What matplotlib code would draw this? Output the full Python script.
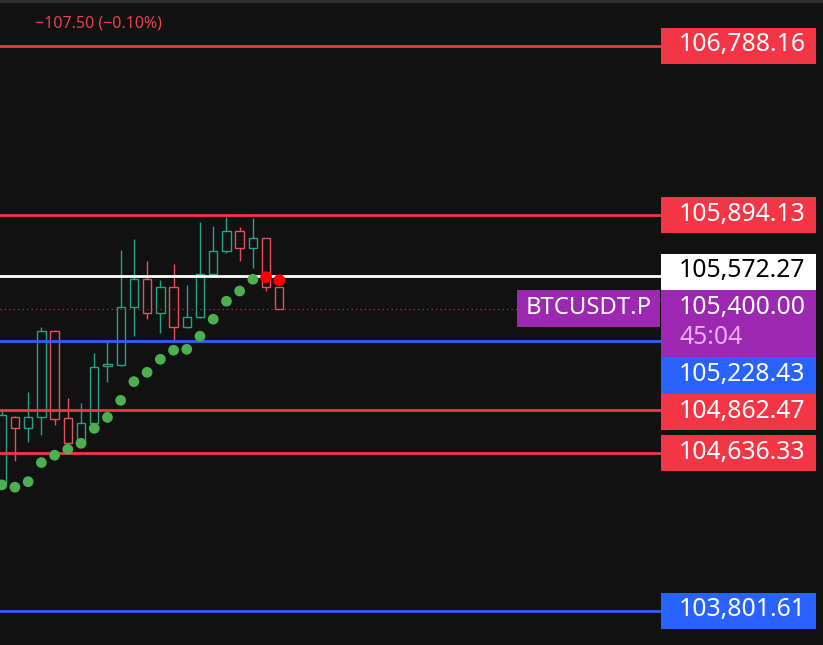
import matplotlib
matplotlib.use("Agg")
import matplotlib.pyplot as plt
from matplotlib.patches import Rectangle

# ---------------- data ----------------
opens  = [104478, 104825, 104767, 104825, 105280, 104820, 104691, 104794, 105096, 105100,
          105407, 105555, 105375, 105513, 105304, 105354, 105581, 105703, 105809, 105719,
          105772, 105513]
highs  = [104869, 104830, 104958, 105301, 105287, 104926, 104900, 105164, 105225, 105710,
          105766, 105652, 105551, 105636, 105525, 105858, 105837, 105886, 105830, 105877,
          105775, 105513]
lows   = [104468, 104596, 104697, 104732, 104785, 104635, 104670, 104769, 105014, 105098,
          105255, 105343, 105273, 105234, 105297, 105350, 105569, 105696, 105653, 105616,
          105495, 105400]
closes = [104838, 104767, 104825, 105280, 104815, 104691, 104794, 105093, 105106, 105407,
          105555, 105375, 105513, 105304, 105354, 105581, 105703, 105809, 105719, 105772,
          105513, 105400]
sar_values = [104468, 104456, 104485, 104586, 104625, 104656, 104688, 104767, 104825, 104915,
              105014, 105063, 105132, 105180, 105185, 105254, 105344, 105439, 105493, 105555,
              105566, 105550]
sar_trend = ["up"] * 20 + ["down"] * 2

level_prices = [106788.16, 105894.13, 105572.27, 105228.43, 104862.47, 104636.33, 103801.61]
level_kinds  = ["red", "red", "white", "blue", "red", "red", "blue"]
last_price = 105400.00
countdown = "45:04"
symbol = "BTCUSDT.P"
change_text = "\u2212107.50 (\u22120.10%)"

# ---------------- style ----------------
W, H = 823, 645
BG = "#111111"
UP = "#22a386"
DOWN = "#e5505c"
RED = "#f23645"
BLUE = "#2962ff"
WHITE = "#ffffff"
PURPLE = "#9c27b0"
kind_fill = {"red": RED, "blue": BLUE, "white": WHITE}
kind_text = {"red": "white", "blue": "white", "white": "black"}
FONT = ["Noto Sans", "DejaVu Sans"]

step_px = 13.22
first_px = 1.7
plot_right_px = 660
label_left_px = 661
label_right_px = 815.5
label_h = 36.7
count_h = 30.0
y_top = 107031.3
y_bot = 103621.8

fig = plt.figure(figsize=(W / 100, H / 100), dpi=100, facecolor=BG)
ax = fig.add_axes([0, 0, 1, 1])
ax.set_facecolor(BG)
ax.set_xlim(-first_px / step_px, (W - first_px) / step_px)
ax.set_ylim(y_bot, y_top)
ax.axis("off")

# top strip
fig.patches.append(Rectangle((0, 1 - 2.5 / H), 1, 2.5 / H, transform=fig.transFigure,
                             facecolor="#2f2f2f", edgecolor="none"))

# candles (hollow)
bw = 0.63
for i, (o, h, l, c) in enumerate(zip(opens, highs, lows, closes)):
    col = UP if c >= o else DOWN
    top, bot = max(o, c), min(o, c)
    ax.add_patch(Rectangle((i - bw / 2, bot), bw, max(top - bot, 2), facecolor=BG,
                           edgecolor=col, lw=1.0, zorder=2))
    if h > top:
        ax.vlines(i, top, h, color=col, lw=1.0, zorder=2)
    if l < bot:
        ax.vlines(i, l, bot, color=col, lw=1.0, zorder=2)

# horizontal levels
xmax_frac = plot_right_px / W
for p, k in zip(level_prices, level_kinds):
    ax.axhline(p, xmin=0, xmax=xmax_frac, color=kind_fill[k], lw=2.0, zorder=3)

# last price dotted line
ax.axhline(last_price, xmin=0, xmax=517 / W, color="#c8404e", lw=0.8, ls=(0, (1, 3)),
           zorder=3)

# SAR dots
xs = list(range(len(sar_values)))
for x, v, t in zip(xs, sar_values, sar_trend):
    if t == "up":
        ax.scatter([x], [v], s=60, color="#4caf50", edgecolors="none", zorder=5)
    else:
        ax.scatter([x], [v], s=72, color="#ff0000", edgecolors="none", zorder=5)

# ---------------- price labels ----------------
fig.canvas.draw()


def price_to_py(p):
    # pixel from top
    return H - ax.transData.transform((0, p))[1]


labels = []
for p, k in zip(level_prices, level_kinds):
    cy = price_to_py(p)
    labels.append({"top": cy - label_h / 2, "h": label_h, "kind": k, "price": p, "fixed": False})
lp_cy = price_to_py(last_price)
labels.append({"top": lp_cy - label_h / 2, "h": label_h + count_h, "kind": "last",
               "price": last_price, "fixed": True})
labels.sort(key=lambda d: d["top"])
anchor = [i for i, d in enumerate(labels) if d["fixed"]][0]
# push upward above anchor
for i in range(anchor - 1, -1, -1):
    lim = labels[i + 1]["top"]
    if labels[i]["top"] + labels[i]["h"] > lim:
        labels[i]["top"] = lim - labels[i]["h"]
# push downward below anchor
for i in range(anchor + 1, len(labels)):
    lim = labels[i - 1]["top"] + labels[i - 1]["h"]
    if labels[i]["top"] < lim:
        labels[i]["top"] = lim


def fig_rect(x0, top, w, h, color):
    fig.patches.append(Rectangle((x0 / W, 1 - (top + h) / H), w / W, h / H,
                                 transform=fig.transFigure, facecolor=color,
                                 edgecolor="none", zorder=6))


def fig_text(x, cy, s, color, size, ha="left"):
    fig.text(x / W, 1 - cy / H, s, color=color, fontsize=size, ha=ha, va="center",
             family=FONT, zorder=7)


text_x = 679
for d in labels:
    if d["kind"] == "last":
        fig_rect(label_left_px, d["top"], label_right_px - label_left_px, d["h"], PURPLE)
        fig_text(text_x, d["top"] + label_h / 2 - 1, f"{d['price']:,.2f}", "white", 17.8)
        fig_text(text_x, d["top"] + label_h + count_h / 2 - 4, countdown, "#e8b0ee", 17.8)
        # symbol tag
        fig_rect(517.3, d["top"], label_left_px - 517.3 - 1, label_h, PURPLE)
        fig_text(588.5, d["top"] + label_h / 2 - 1, symbol, "white", 17.2, ha="center")
    else:
        fig_rect(label_left_px, d["top"], label_right_px - label_left_px, d["h"],
                 kind_fill[d["kind"]])
        fig_text(text_x, d["top"] + d["h"] / 2 - 1, f"{d['price']:,.2f}",
                 kind_text[d["kind"]], 17.8)

# change text
fig.text(35 / W, 1 - 23 / H, change_text, color="#e8404f", fontsize=11.5, ha="left",
         va="center", family=FONT)

fig.savefig("out.png", dpi=100, facecolor=BG)
